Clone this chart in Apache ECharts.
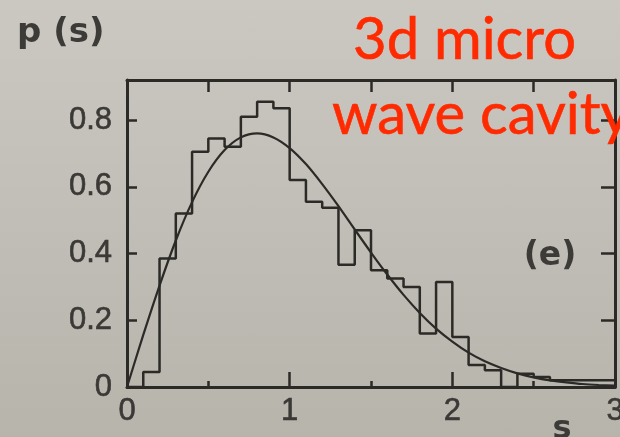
<!DOCTYPE html>
<html>
<head>
<meta charset="utf-8">
<script src="https://cdn.jsdelivr.net/npm/echarts@6/dist/echarts.min.js"></script>
<style>
  html, body { margin: 0; padding: 0; width: 620px; height: 437px; overflow: hidden;
    background: linear-gradient(180deg, #cac8c0 0%, #c1bfb7 45%, #b7b4ac 100%); }
  #chart { width: 620px; height: 437px; }
</style>
</head>
<body>
<div id="chart"></div>
<script>
// Level-spacing histogram: left edge of each bin (width 0.1) and its height p(s)
const binStarts = [0.0, 0.1, 0.2, 0.3, 0.4, 0.5, 0.6, 0.7, 0.8, 0.9,
                   1.0, 1.1, 1.2, 1.3, 1.4, 1.5, 1.6, 1.7, 1.8, 1.9,
                   2.0, 2.1, 2.2, 2.3, 2.4, 2.5, 2.6, 2.7, 2.8, 2.9];
const binHeights = [0.0, 0.045, 0.385, 0.52, 0.705, 0.745, 0.72, 0.81, 0.855, 0.835,
                    0.62, 0.555, 0.537, 0.366, 0.47, 0.35, 0.325, 0.30, 0.16, 0.315,
                    0.15, 0.066, 0.05, 0.0, 0.04, 0.03, 0.02, 0.02, 0.02, 0.02];
const binEnd = 3.0;

// Smooth reference curve p(s)
const curveS = [0.0, 0.1, 0.2, 0.3, 0.4, 0.5, 0.6, 0.7, 0.8, 0.9,
                1.0, 1.1, 1.2, 1.3, 1.4, 1.5, 1.6, 1.7, 1.8, 1.9,
                2.0, 2.1, 2.2, 2.3, 2.4, 2.5, 2.6, 2.7, 2.8, 2.9, 3.0];
const curveP = [0.0, 0.156, 0.304, 0.439, 0.554, 0.645, 0.710, 0.748, 0.760, 0.748,
                0.716, 0.668, 0.608, 0.542, 0.472, 0.403, 0.337, 0.276, 0.222, 0.175,
                0.136, 0.103, 0.077, 0.057, 0.041, 0.029, 0.020, 0.014, 0.009, 0.006, 0.004];

// Tick labels
const xTickLabels = ['0', '1', '2', '3'];
const yTickLabels = ['0', '0.2', '0.4', '0.6', '0.8'];

const ink = '#2c2a27';
const labelInk = '#3b3936';

const histData = binStarts.map((s, i) => [s, binHeights[i]])
  .concat([[binEnd, binHeights[binHeights.length - 1]]]);
const curveData = curveS.map((s, i) => [s, curveP[i]]);

const frameLine = { lineStyle: { color: ink, width: 3 }, onZero: false };
const tickStyle = { color: ink, width: 2.5 };
const tickFont = {
  color: labelInk, fontSize: 31, fontFamily: 'Liberation Sans',
  textBorderColor: labelInk, textBorderWidth: 0.6
};

const chart = echarts.init(document.getElementById('chart'), null, { renderer: 'canvas' });
chart.setOption({
  animation: false,
  backgroundColor: 'transparent',
  grid: { left: 127, right: 5, top: 80, bottom: 50, containLabel: false, outerBoundsMode: 'none' },
  xAxis: [
    {
      type: 'value', position: 'bottom', min: 0, max: 3, interval: 1,
      axisLine: frameLine,
      axisTick: { inside: true, length: 15, lineStyle: tickStyle },
      minorTick: { show: true, splitNumber: 2, length: 6, lineStyle: tickStyle },
      splitLine: { show: false },
      axisLabel: Object.assign({ margin: 9, formatter: v => xTickLabels[Math.round(v)] ?? '' }, tickFont)
    },
    {
      type: 'value', position: 'top', min: 0, max: 3, interval: 0.5,
      axisLine: frameLine,
      axisTick: { inside: true, length: 12, lineStyle: tickStyle },
      splitLine: { show: false },
      axisLabel: { show: false }
    }
  ],
  yAxis: [
    {
      type: 'value', position: 'left', min: 0, max: 0.92, interval: 0.2,
      axisLine: frameLine,
      axisTick: { inside: true, length: 10, lineStyle: tickStyle },
      splitLine: { show: false },
      axisLabel: Object.assign({
        margin: 15, showMaxLabel: false,
        formatter: v => {
          const k = Math.round(v / 0.2);
          return Math.abs(v - k * 0.2) < 1e-6 ? (yTickLabels[k] ?? '') : '';
        }
      }, tickFont)
    },
    {
      type: 'value', position: 'right', min: 0, max: 0.92, interval: 0.2,
      axisLine: frameLine,
      axisTick: { inside: true, length: 14, lineStyle: tickStyle },
      splitLine: { show: false },
      axisLabel: { show: false }
    }
  ],
  series: [
    {
      type: 'line', xAxisIndex: 0, yAxisIndex: 0, step: 'end',
      data: histData, showSymbol: false, silent: true,
      lineStyle: { color: ink, width: 2.5 }
    },
    {
      type: 'line', xAxisIndex: 0, yAxisIndex: 0, smooth: 0.3,
      data: curveData, showSymbol: false, silent: true,
      lineStyle: { color: ink, width: 2.2 }
    }
  ],
  graphic: [
    { type: 'text', x: 17, y: 33, style: { text: 'p (s)', font: 'bold 34px "DejaVu Sans"', fill: '#3d3b38', align: 'left', verticalAlign: 'middle' } },
    { type: 'text', x: 550, y: 256, style: { text: '(e)', font: 'bold 33px "DejaVu Sans"', fill: '#3d3b38', align: 'center', verticalAlign: 'middle' } },
    { type: 'text', x: 562, y: 430, style: { text: 's', font: 'bold 32px "DejaVu Sans"', fill: '#3d3b38', align: 'center', verticalAlign: 'middle' } },
    { type: 'text', x: 353, y: 40, z: 100, style: { text: '3d micro', font: '58px Lato', fill: '#ff2a00', stroke: '#ff2a00', lineWidth: 0.6, align: 'left', verticalAlign: 'middle' } },
    { type: 'text', x: 332, y: 115, z: 100, style: { text: 'wave cavity', font: '58px Lato', fill: '#ff2a00', stroke: '#ff2a00', lineWidth: 0.6, align: 'left', verticalAlign: 'middle' } }
  ]
});
</script>
</body>
</html>
